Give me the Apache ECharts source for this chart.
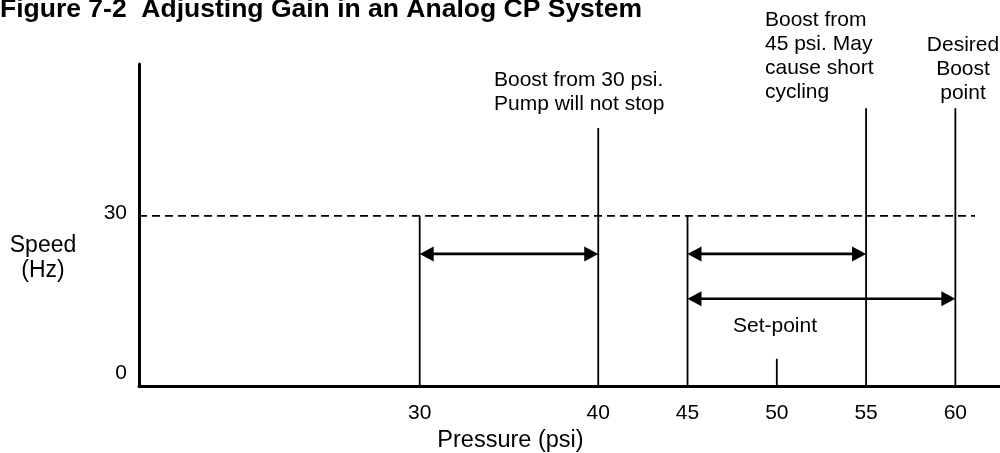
<!DOCTYPE html>
<html>
<head>
<meta charset="utf-8">
<script src="https://cdn.jsdelivr.net/npm/echarts@6/dist/echarts.min.js"></script>
<style>
html,body{margin:0;padding:0;background:#fff;}
#chart{width:1000px;height:453px;}
</style>
</head>
<body>
<div id="chart"></div>
<script>
// ---- data ----
const pressureTicks = [30, 40, 45, 50, 55, 60];
const speedTicks = [0, 30];
const pressureRange = [14.28, 62.5];
const speedRange = [0, 56.8];
const markerPressure = [30, 40, 45, 50, 55, 60];
const markerTopSpeed = [30, 45.5, 30, 4.8, 49, 49];
const rangeFrom = [30, 45, 45];
const rangeTo = [40, 55, 60];
const rangeSpeed = [23.3, 23.3, 15.4];
const maxSpeed = 30;
const maxSpeedPressure = [14.28, 61.1];

const FONT = 'Liberation Sans, Arial, sans-serif';
const chart = echarts.init(document.getElementById('chart'), null, {renderer: 'canvas'});

const option = {
  animation: false,
  backgroundColor: '#fff',
  title: {
    text: 'Figure 7-2  Adjusting Gain in an Analog CP System',
    left: 0, top: -4, padding: 0,
    textStyle: {fontFamily: FONT, fontSize: 26.5, fontWeight: 'bold', color: '#000'}
  },
  grid: {left: 139, right: 0, top: 64, bottom: 67, outerBoundsMode: 'none'},
  xAxis: {
    type: 'value', min: pressureRange[0], max: pressureRange[1],
    name: 'Pressure (psi)', nameLocation: 'middle', nameGap: 42,
    nameTextStyle: {fontFamily: FONT, fontSize: 23.5, color: '#000', padding: [0, 118, 0, 0]},
    axisLine: {show: true, onZero: false, lineStyle: {color: '#000', width: 3}},
    axisTick: {show: false},
    splitLine: {show: false},
    axisLabel: {customValues: pressureTicks, margin: 17, fontFamily: FONT, fontSize: 21, color: '#000'}
  },
  yAxis: {
    type: 'value', min: speedRange[0], max: speedRange[1],
    axisLine: {show: true, onZero: false, lineStyle: {color: '#000', width: 3}},
    axisTick: {show: false},
    splitLine: {show: false},
    axisLabel: {
      customValues: speedTicks, margin: 12, fontFamily: FONT, fontSize: 21, color: '#000',
      formatter: v => v === 0 ? '{lo|' + v + '}' : '{hi|' + v + '}',
      rich: {
        lo: {fontFamily: FONT, fontSize: 21, color: '#000', padding: [0, 0, 26, 0]},
        hi: {fontFamily: FONT, fontSize: 21, color: '#000', padding: [0, 0, 6, 0]}
      }
    }
  },
  series: [
    {
      name: 'Max speed', type: 'line', symbol: 'none', silent: true,
      data: maxSpeedPressure.map(p => [p, maxSpeed]),
      lineStyle: {color: '#000', width: 1.7, type: [8, 5]}
    },
    {
      name: 'Markers', type: 'custom', silent: true,
      data: markerPressure.map((p, i) => [p, 0, markerTopSpeed[i]]),
      renderItem: (params, api) => {
        const a = api.coord([api.value(0), api.value(1)]);
        const b = api.coord([api.value(0), api.value(2)]);
        return {type: 'line', shape: {x1: a[0], y1: a[1], x2: b[0], y2: b[1]},
          style: {stroke: '#000', lineWidth: 1.8}};
      }
    },
    {
      name: 'Ranges', type: 'custom', silent: true,
      data: rangeFrom.map((f, i) => [f, rangeTo[i], rangeSpeed[i]]),
      renderItem: (params, api) => {
        const a = api.coord([api.value(0), api.value(2)]);
        const b = api.coord([api.value(1), api.value(2)]);
        const L = 14, H = 7.5;
        return {type: 'group', children: [
          {type: 'line', shape: {x1: a[0] + L - 2, y1: a[1], x2: b[0] - L + 2, y2: b[1]},
            style: {stroke: '#000', lineWidth: 2.6}},
          {type: 'polygon', shape: {points: [[a[0], a[1]], [a[0] + L, a[1] - H], [a[0] + L, a[1] + H]]},
            style: {fill: '#000'}},
          {type: 'polygon', shape: {points: [[b[0], b[1]], [b[0] - L, b[1] - H], [b[0] - L, b[1] + H]]},
            style: {fill: '#000'}}
        ]};
      }
    }
  ],
  graphic: [
    {type: 'text', x: 43, y: 233, style: {text: 'Speed\n(Hz)', font: '23px ' + FONT, fill: '#000', align: 'center', verticalAlign: 'top', lineHeight: 25}},
    {type: 'text', x: 494, y: 68, style: {text: 'Boost from 30 psi.\nPump will not stop', font: '21px ' + FONT, fill: '#000', align: 'left', verticalAlign: 'top', lineHeight: 24}},
    {type: 'text', x: 765, y: 8, style: {text: 'Boost from\n45 psi. May\ncause short\ncycling', font: '21px ' + FONT, fill: '#000', align: 'left', verticalAlign: 'top', lineHeight: 24}},
    {type: 'text', x: 963, y: 33, style: {text: 'Desired\nBoost\npoint', font: '21px ' + FONT, fill: '#000', align: 'center', verticalAlign: 'top', lineHeight: 24}},
    {type: 'text', x: 775, y: 326, style: {text: 'Set-point', font: '21px ' + FONT, fill: '#000', align: 'center', verticalAlign: 'middle'}}
  ]
};
chart.setOption(option);
</script>
</body>
</html>
